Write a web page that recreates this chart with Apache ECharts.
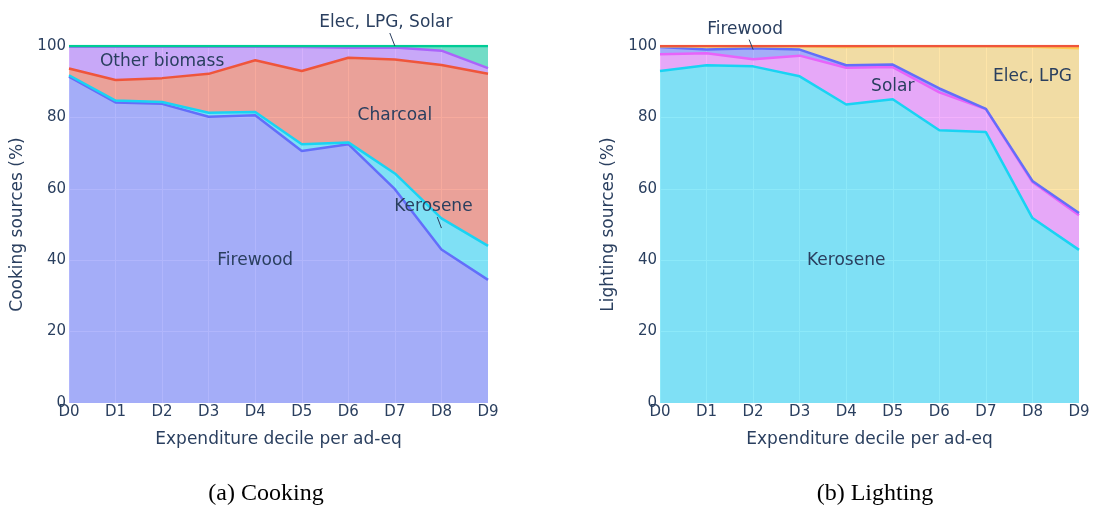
<!DOCTYPE html>
<html>
<head>
<meta charset="utf-8">
<script src="https://cdn.jsdelivr.net/npm/echarts@6/dist/echarts.min.js"></script>
<style>
  html, body { margin: 0; padding: 0; background: #fff; }
  #chart { width: 1093px; height: 506px; }
</style>
</head>
<body>
<div id="chart"></div>
<script>
// Expenditure deciles (x axis)
const deciles = ['D0', 'D1', 'D2', 'D3', 'D4', 'D5', 'D6', 'D7', 'D8', 'D9'];

// Cooking sources, share of households (%), stacked bottom to top
const cookFirewood     = [91.4, 84.2, 83.8, 80.2, 80.6, 70.6, 72.5, 59.9, 43.0, 34.5];
const cookKerosene     = [0.4, 0.5, 0.5, 1.1, 0.9, 1.9, 0.5, 4.4, 8.7, 9.5];
const cookCharcoal     = [1.9, 5.8, 6.7, 10.9, 14.5, 20.5, 23.7, 31.9, 43.0, 48.2];
const cookOtherBiomass = [6.1, 9.3, 8.8, 7.6, 3.8, 6.7, 2.8, 3.4, 4.0, 1.6];
const cookElecLpgSolar = [0.2, 0.2, 0.2, 0.2, 0.2, 0.3, 0.5, 0.4, 1.3, 6.2];

// Lighting sources, share of households (%), stacked bottom to top
const lightKerosene = [93.0, 94.6, 94.3, 91.5, 83.6, 85.1, 76.4, 75.9, 51.8, 42.9];
const lightSolar    = [4.7, 3.4, 2.0, 5.8, 10.3, 9.0, 10.6, 6.4, 10.1, 9.7];
const lightFirewood = [2.0, 1.0, 3.1, 1.7, 0.7, 0.7, 1.1, 0.1, 0.3, 0.6];
const lightElecLpg  = [0.2, 0.9, 0.5, 0.9, 5.1, 5.1, 11.8, 17.5, 37.6, 46.2];
const lightOther    = [0.1, 0.1, 0.1, 0.1, 0.3, 0.1, 0.1, 0.1, 0.2, 0.6];

// Y axis ticks
const yTicks = { min: 0, max: 100, interval: 20 };

const TEXT = '#2a3f5f';
const FONT = 'DejaVu Sans';

function area(name, data, color, idx) {
  return {
    name: name, type: 'line', data: data,
    xAxisIndex: idx, yAxisIndex: idx,
    stack: 'total' + idx,
    symbol: 'none', smooth: false,
    lineStyle: { color: color, width: 2.5 },
    itemStyle: { color: color },
    areaStyle: { color: color, opacity: 0.5 },
    emphasis: { disabled: true },
    z: 2
  };
}

function xAxis(idx) {
  return {
    type: 'category', gridIndex: idx, data: deciles, boundaryGap: false,
    name: 'Expenditure decile per ad-eq', nameLocation: 'middle', nameGap: 28,
    nameTextStyle: { color: TEXT, fontFamily: FONT, fontSize: 17 },
    axisLine: { show: false }, axisTick: { show: false },
    axisLabel: { color: TEXT, fontFamily: FONT, fontSize: 15, margin: 2, interval: 0 },
    splitLine: { show: true, lineStyle: { color: '#ffffff', width: 1 } }
  };
}

function yAxis(idx, title) {
  return {
    type: 'value', gridIndex: idx, min: yTicks.min, max: yTicks.max, interval: yTicks.interval,
    name: title, nameLocation: 'middle', nameGap: 43, nameRotate: 90,
    nameTextStyle: { color: TEXT, fontFamily: FONT, fontSize: 17 },
    axisLine: { show: false }, axisTick: { show: false },
    axisLabel: { color: TEXT, fontFamily: FONT, fontSize: 15, margin: 3 },
    splitLine: { show: true, lineStyle: { color: '#ffffff', width: 1 } }
  };
}

const chart = echarts.init(document.getElementById('chart'), null, { renderer: 'canvas' });

chart.setOption({
  animation: false,
  backgroundColor: '#ffffff',
  grid: [
    { left: 69, top: 46, width: 419, height: 357, show: true, backgroundColor: '#E5ECF6', borderWidth: 0 },
    { left: 660, top: 46, width: 419, height: 357, show: true, backgroundColor: '#E5ECF6', borderWidth: 0 }
  ],
  xAxis: [xAxis(0), xAxis(1)],
  yAxis: [yAxis(0, 'Cooking sources (%)'), yAxis(1, 'Lighting sources (%)')],
  series: [
    area('Firewood', cookFirewood, '#636efa', 0),
    area('Kerosene', cookKerosene, '#19d3f3', 0),
    area('Charcoal', cookCharcoal, '#EF553B', 0),
    area('Other biomass', cookOtherBiomass, '#ab63fa', 0),
    area('Elec, LPG, Solar', cookElecLpgSolar, '#00cc96', 0),

    area('Kerosene', lightKerosene, '#19d3f3', 1),
    area('Solar', lightSolar, '#e763fa', 1),
    area('Firewood', lightFirewood, '#636efa', 1),
    area('Elec, LPG', lightElecLpg, '#FECB52', 1),
    area('Other', lightOther, '#EF553B', 1)
  ]
});

// Series labels placed in data coordinates; dx/dy shift the text from the
// anchor and draw a short leader line back to it.
const labels = [
  { g: 0, text: 'Firewood', x: 'D4', y: 40 },
  { g: 0, text: 'Charcoal', x: 'D7', y: 80.5 },
  { g: 0, text: 'Other biomass', x: 'D2', y: 95.5 },
  { g: 0, text: 'Kerosene', x: 'D8', y: 49, dx: -8, dy: -21 },
  { g: 0, text: 'Elec, LPG, Solar', x: 'D7', y: 100, dx: -9, dy: -23 },
  { g: 1, text: 'Kerosene', x: 'D4', y: 40 },
  { g: 1, text: 'Solar', x: 'D5', y: 88.5 },
  { g: 1, text: 'Elec, LPG', x: 'D8', y: 91.5 },
  { g: 1, text: 'Firewood', x: 'D2', y: 99, dx: -8, dy: -20 }
];

const graphics = [];
labels.forEach(function (a) {
  const p = chart.convertToPixel({ xAxisIndex: a.g, yAxisIndex: a.g }, [a.x, a.y]);
  const dx = a.dx || 0, dy = a.dy || 0;
  const cx = p[0] + dx, cy = p[1] + dy;
  if (a.dx !== undefined) {
    const t = 1 - 10 / Math.abs(dy);
    graphics.push({
      type: 'line', z: 10,
      shape: { x1: p[0], y1: p[1], x2: p[0] + dx * t, y2: p[1] + dy * t },
      style: { stroke: TEXT, lineWidth: 1 }
    });
  }
  graphics.push({
    type: 'text', z: 11, x: cx, y: cy,
    style: { text: a.text, fill: TEXT, font: '17px "' + FONT + '"', textAlign: 'center', textVerticalAlign: 'middle' }
  });
});

// Panel captions
[{ text: '(a) Cooking', x: 266 }, { text: '(b) Lighting', x: 875 }].forEach(function (c) {
  graphics.push({
    type: 'text', x: c.x, y: 494,
    style: { text: c.text, fill: '#000', font: '24px "Liberation Serif"', textAlign: 'center', textVerticalAlign: 'middle' }
  });
});

chart.setOption({ graphic: graphics });
</script>
</body>
</html>
